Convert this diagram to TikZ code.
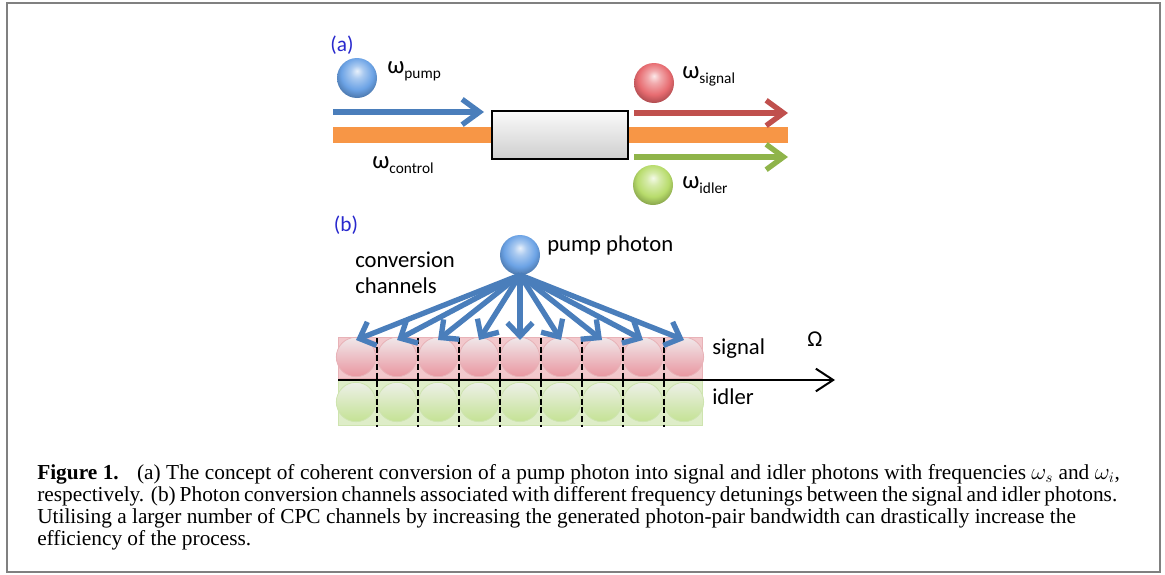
\documentclass[tikz,border=0pt]{standalone}
\usepackage{fontspec}
\setmainfont{Liberation Serif}
\newfontfamily\labelfont{Carlito}
\usetikzlibrary{arrows.meta}

\definecolor{pumpblue}{RGB}{74,126,187}
\definecolor{sigred}{RGB}{192,80,77}
\definecolor{idlgreen}{RGB}{143,180,74}
\definecolor{ctrlorange}{RGB}{247,150,70}
\definecolor{panelblue}{RGB}{40,40,205}
\definecolor{framegray}{RGB}{128,128,128}
\definecolor{ballblue}{RGB}{100,158,228}
\definecolor{ballred}{RGB}{230,100,105}
\definecolor{ballgreen}{RGB}{180,218,100}
\definecolor{sigfill}{RGB}{242,200,204}
\definecolor{sigedge}{RGB}{232,178,183}
\definecolor{sigtop}{RGB}{240,232,234}
\definecolor{sigbot}{RGB}{233,150,160}
\definecolor{idlfill}{RGB}{222,237,200}
\definecolor{idledge}{RGB}{206,228,175}
\definecolor{idltop}{RGB}{237,240,232}
\definecolor{idlbot}{RGB}{196,226,148}
\colorlet{glosscol}{ballblue}

% glossy sphere: light highlight at the top, soft darker rim
\pgfdeclareradialshading[glosscol]{glossy}{\pgfpoint{0bp}{9bp}}{%
  color(0bp)=(glosscol!15!white);
  color(8bp)=(glosscol!55!white);
  color(20bp)=(glosscol!95!white);
  color(29bp)=(glosscol!75!black);
  color(32bp)=(glosscol!60!black);
  color(50bp)=(glosscol!60!black)}

% lowered subscript for the frequency labels
\newcommand{\lowsub}[1]{\raisebox{-0.5ex}{\fontsize{11.5}{12}\selectfont #1}}

\begin{document}
\begin{tikzpicture}[x=0.75pt,y=-0.75pt,
  lbl/.style={font=\labelfont\fontsize{17}{19.5}\selectfont, inner sep=0},
  omega/.style={font=\labelfont\fontsize{18.5}{20}\selectfont, inner sep=0, anchor=base west},
  panel/.style={font=\labelfont\fontsize{16}{18}\selectfont, text=panelblue, inner sep=0},
  gloss color/.code={\colorlet{glosscol}{#1}},
  photon/.style={circle, inner sep=0, minimum size=30pt, shading=glossy},
  beam/.style={line width=4pt, -{Straight Barb[length=13pt,width=19pt]}},
  channel/.style={pumpblue, line width=4pt, -{Straight Barb[length=10pt,width=19pt]}},
  crystal/.style={draw=black, line width=1.5pt, top color=gray!4, bottom color=gray!38,
    minimum width=102pt, minimum height=36pt, inner sep=0},
  cell/.style={circle, inner sep=0, minimum size=29.5pt, line width=0.6pt},
  sigcell/.style={cell, top color=sigtop, bottom color=sigbot, draw=sigedge},
  idlcell/.style={cell, top color=idltop, bottom color=idlbot, draw=idledge},
  sepline/.style={black, line width=1.5pt, dash pattern=on 4.5pt off 2pt},
  axis/.style={black, line width=1.5pt, -{Straight Barb[length=13pt,width=17pt]}},
  captxt/.style={font=\fontsize{16}{19}\selectfont, inner sep=0, anchor=base west}
]
\useasboundingbox (0,0) rectangle (1165,575);

% outer frame
\draw[framegray, line width=1.8pt] (7,3) rectangle (1160,572);

% ---------- panel (a) ----------
\node[panel] (pa) at (342,45) {(a)};

\coordinate (ctrlin) at (333,135);
\coordinate (ctrlout) at (788,135);
\draw[ctrlorange, line width=12pt] (ctrlin) -- (ctrlout);

\node[crystal] (xtal) at (560,135) {};

\coordinate (pumpin) at (333,112);
\coordinate (sigout) at (788,113);
\coordinate (idlout) at (788,157);
\draw[beam, pumpblue] (pumpin) -- ([xshift=-5.25pt]xtal.west |- pumpin);
\draw[beam, sigred] ([xshift=3.75pt]xtal.east |- sigout) -- (sigout);
\draw[beam, idlgreen] ([xshift=3.75pt]xtal.east |- idlout) -- (idlout);

\node[photon, gloss color=ballblue] (pumpa) at (357,78) {};
\node[photon, gloss color=ballred] (siga) at (654,83) {};
\node[photon, gloss color=ballgreen] (idla) at (653,185) {};

\node[omega] (wpump) at (387,73) {ω\lowsub{pump}};
\node[omega] (wsig) at (682,78) {ω\lowsub{signal}};
\node[omega] (widl) at (682,188) {ω\lowsub{idler}};
\node[omega] (wctrl) at (372,168) {ω\lowsub{control}};

% ---------- panel (b) ----------
\node[panel] (pb) at (346,225) {(b)};

\fill[sigfill, draw=sigedge, line width=0.6pt] (338,337) rectangle (702,378);
\fill[idlfill, draw=idledge, line width=0.6pt] (338,379) rectangle (702,425);

\foreach \i in {1,...,9} {
  \pgfmathsetmacro\cx{356+41*(\i-1)}
  \node[sigcell] (s\i) at (\cx,357) {};
  \node[idlcell] (d\i) at (\cx,402) {};
  \coordinate (tip\i) at (\cx,340);
}

\foreach \k in {1,...,8} {
  \pgfmathsetmacro\sx{376.5+41*(\k-1)}
  \draw[sepline] (\sx,338) -- (\sx,427);
}

\coordinate (axl) at (338,380);
\coordinate (axr) at (835,380);
\draw[axis] (axl) -- (axr);

\node[photon, gloss color=ballblue] (pumpb) at (520,255) {};
\coordinate (src) at (520,275);
\foreach \i in {1,...,9} {
  \draw[channel] (src) -- (tip\i);
}

\node[lbl, anchor=base west] (pplab) at (547,251) {pump photon};
\node[lbl, anchor=base west, align=left] (cclab) at (355,293) {conversion\\channels};
\node[lbl, anchor=base west] (siglab) at (712,354) {signal};
\node[lbl, anchor=base west] (idllab) at (712,404) {idler};
\node[lbl] (omg) at (815,339) {Ω};

% ---------- caption ----------
\node[captxt] (cap1) at (37,479) {\makebox[812pt][s]{\textbf{Figure 1.}\hspace{0.5em} (a) The concept of coherent conversion of a pump photon into signal and idler photons with frequencies $\omega_s$ and $\omega_i$,}};
\node[captxt] (cap2) at (37,501) {\makebox[810pt][s]{respectively. (b) Photon conversion channels associated with different frequency detunings between the signal and idler photons.}};
\node[captxt] (cap3) at (37,523) {Utilising a larger number of CPC channels by increasing the generated photon-pair bandwidth can drastically increase the};
\node[captxt] (cap4) at (37,545) {efficiency of the process.};
\end{tikzpicture}
\end{document}
